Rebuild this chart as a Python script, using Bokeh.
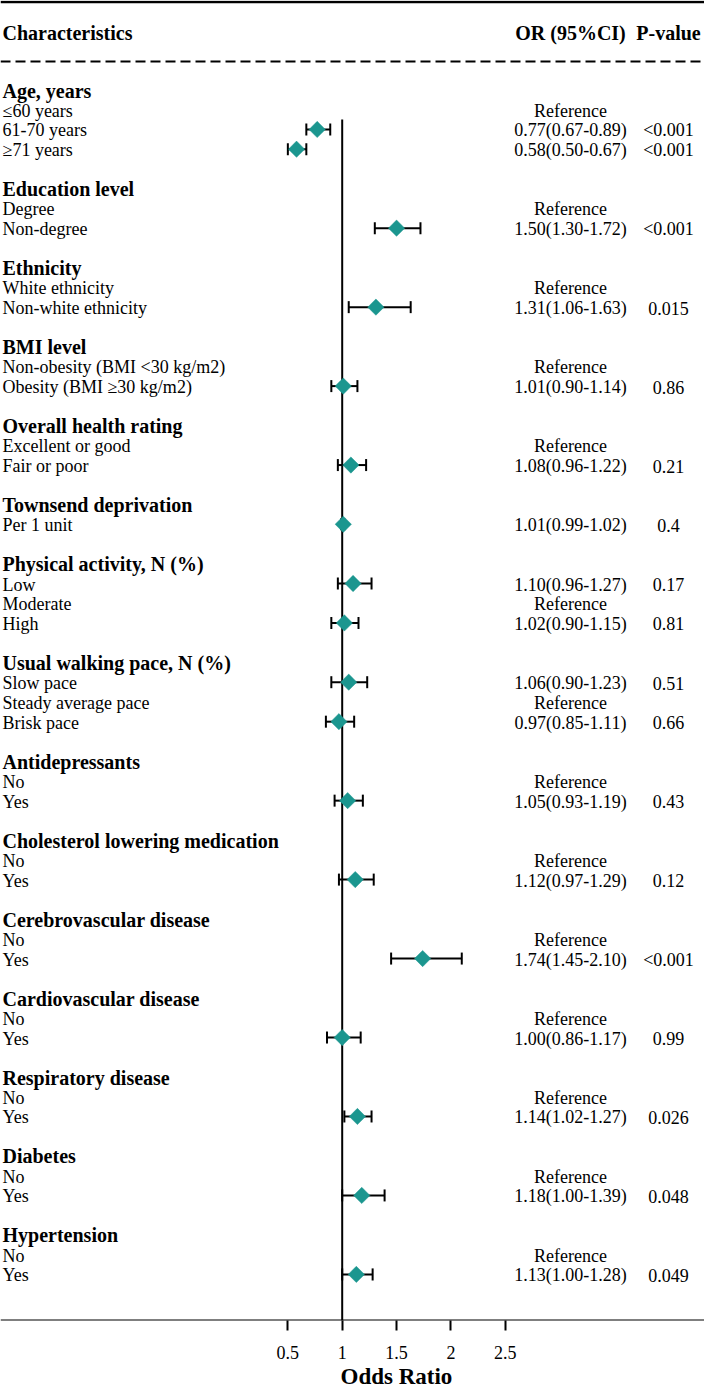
from bokeh.plotting import figure
from bokeh.models import (Range1d, Whisker, TeeHead, ColumnDataSource, LinearAxis,
                          FixedTicker, NumeralTickFormatter, Span, Title)
from bokeh.embed import file_html
from bokeh.resources import INLINE
from bokeh.core.properties import value

# ---------------- data ----------------
group_names = [
    "Age, years", "Education level", "Ethnicity", "BMI level", "Overall health rating",
    "Townsend deprivation", "Physical activity, N (%)", "Usual walking pace, N (%)",
    "Antidepressants", "Cholesterol lowering medication", "Cerebrovascular disease",
    "Cardiovascular disease", "Respiratory disease", "Diabetes", "Hypertension",
]
group_items = [
    ["\u226460 years", "61-70 years", "\u226571 years"],
    ["Degree", "Non-degree"],
    ["White ethnicity", "Non-white ethnicity"],
    ["Non-obesity (BMI <30 kg/m2)", "Obesity (BMI \u226530 kg/m2)"],
    ["Excellent or good", "Fair or poor"],
    ["Per 1 unit"],
    ["Low", "Moderate", "High"],
    ["Slow pace", "Steady average pace", "Brisk pace"],
    ["No", "Yes"],
    ["No", "Yes"],
    ["No", "Yes"],
    ["No", "Yes"],
    ["No", "Yes"],
    ["No", "Yes"],
    ["No", "Yes"],
]
# None = reference category
or_est = [
    [None, 0.77, 0.58], [None, 1.50], [None, 1.31], [None, 1.01], [None, 1.08],
    [1.01], [1.10, None, 1.02], [1.06, None, 0.97], [None, 1.05], [None, 1.12],
    [None, 1.74], [None, 1.00], [None, 1.14], [None, 1.18], [None, 1.13],
]
or_low = [
    [None, 0.67, 0.50], [None, 1.30], [None, 1.06], [None, 0.90], [None, 0.96],
    [0.99], [0.96, None, 0.90], [0.90, None, 0.85], [None, 0.93], [None, 0.97],
    [None, 1.45], [None, 0.86], [None, 1.02], [None, 1.00], [None, 1.00],
]
or_high = [
    [None, 0.89, 0.67], [None, 1.72], [None, 1.63], [None, 1.14], [None, 1.22],
    [1.02], [1.27, None, 1.15], [1.23, None, 1.11], [None, 1.19], [None, 1.29],
    [None, 2.10], [None, 1.17], [None, 1.27], [None, 1.39], [None, 1.28],
]
p_values = [
    ["", "<0.001", "<0.001"], ["", "<0.001"], ["", "0.015"], ["", "0.86"], ["", "0.21"],
    ["0.4"], ["0.17", "", "0.81"], ["0.51", "", "0.66"], ["", "0.43"], ["", "0.12"],
    ["", "<0.001"], ["", "0.99"], ["", "0.026"], ["", "0.048"], ["", "0.049"],
]
x_ticks = [0.5, 1, 1.5, 2, 2.5]
col_headers = ["Characteristics", "OR (95%CI)", "P-value"]
x_title = "Odds Ratio"

# ---------------- layout helpers ----------------
PX_X1 = 341.7      # pixel of OR = 1
PX_PER_UNIT = 108.7
ROW0 = 89.5        # pixel of first row centre
ROW_H = 19.74
FRAME_BOTTOM = 1320


def xd(px):
    return 1 + (px - PX_X1) / PX_PER_UNIT


def yd(px):
    return (px - ROW0) / ROW_H


FONT = value("Liberation Serif")
TEAL = "#1B968F"

# build rows
hdr_rows, hdr_txt = [], []
it_rows, it_txt, ci_txt, p_txt = [], [], [], []
est_rows, est, lo, hi = [], [], [], []
row = 0
for g, name in enumerate(group_names):
    hdr_rows.append(row)
    hdr_txt.append(name)
    row += 1
    for i, item in enumerate(group_items[g]):
        it_rows.append(row)
        it_txt.append(item)
        e = or_est[g][i]
        if e is None:
            ci_txt.append("Reference")
        else:
            ci_txt.append(f"{e:.2f}({or_low[g][i]:.2f}-{or_high[g][i]:.2f})")
            est_rows.append(row)
            est.append(e)
            lo.append(or_low[g][i])
            hi.append(or_high[g][i])
        p_txt.append(p_values[g][i])
        row += 1
    row += 1

item_off = 1.0 / ROW_H   # baseline offset from row centre
head_off = 0.5 / ROW_H

p = figure(width=704, height=1388,
           x_range=Range1d(xd(0), xd(704)),
           y_range=Range1d(yd(FRAME_BOTTOM), yd(0)),
           x_axis_type=None, y_axis_type=None,
           output_backend="svg", toolbar_location=None,
           min_border=0, outline_line_color=None)
p.background_fill_color = "white"
p.border_fill_color = "white"

# top rule and dashed rule
p.segment(x0=[xd(0)], y0=[yd(1.5)], x1=[xd(704)], y1=[yd(1.5)],
          line_color="black", line_width=2.5)
p.segment(x0=[xd(0)], y0=[yd(61)], x1=[xd(704)], y1=[yd(61)],
          line_color="black", line_width=2, line_dash="10 5")

# column headers
hdr_y = yd(32)
p.text(x=[xd(2)], y=[hdr_y], text=[col_headers[0]], text_font=FONT,
       text_font_size="20px", text_font_style="bold", text_align="left",
       text_baseline="alphabetic", text_color="black")
p.text(x=[xd(570), xd(668)], y=[hdr_y, hdr_y], text=col_headers[1:], text_font=FONT,
       text_font_size="20px", text_font_style="bold", text_align="center",
       text_baseline="alphabetic", text_color="black")

# group headers
p.text(x=[xd(2)] * len(hdr_rows), y=[r + head_off for r in hdr_rows], text=hdr_txt,
       text_font=FONT, text_font_size="20px", text_font_style="bold",
       text_align="left", text_baseline="alphabetic", text_color="black")
# items
iy = [r + item_off for r in it_rows]
p.text(x=[xd(2)] * len(it_rows), y=iy, text=it_txt,
       text_font=FONT, text_font_size="18px", text_align="left",
       text_baseline="alphabetic", text_color="black")
p.text(x=[xd(570)] * len(it_rows), y=iy, text=ci_txt,
       text_font=FONT, text_font_size="18px", text_align="center",
       text_baseline="alphabetic", text_color="black")
p.text(x=[xd(668)] * len(it_rows), y=iy, text=p_txt,
       text_font=FONT, text_font_size="18px", text_align="center",
       text_baseline="alphabetic", text_color="black")

# reference line at OR = 1
p.segment(x0=[1], y0=[yd(119)], x1=[1], y1=[yd(FRAME_BOTTOM)], line_color="black", line_width=2)

# CIs and point estimates
src = ColumnDataSource(dict(row=est_rows, est=est, lo=lo, hi=hi))
wh = Whisker(source=src, base="row", lower="lo", upper="hi", dimension="width",
             line_color="black", line_width=2,
             upper_head=TeeHead(size=12, line_width=2, line_color="black"),
             lower_head=TeeHead(size=12, line_width=2, line_color="black"))
p.add_layout(wh)
p.scatter(x="est", y="row", source=src, marker="square", angle=0.785398,
          size=11.5, fill_color=TEAL, line_color=TEAL, line_width=0.5)

# bottom axis
p.add_layout(Span(location=yd(FRAME_BOTTOM), dimension="width", line_color="black", line_width=2))
ax = LinearAxis(ticker=FixedTicker(ticks=x_ticks), bounds=(0.5, 2.5),
                formatter=NumeralTickFormatter(format="0.[0]"))
ax.axis_line_color = None
ax.major_tick_in = 0
ax.major_tick_out = 10
ax.major_tick_line_width = 2
ax.major_tick_line_color = "black"
ax.minor_tick_line_color = None
ax.major_label_text_font = "Liberation Serif"
ax.major_label_text_font_size = "18px"
ax.major_label_text_color = "black"
ax.major_label_standoff = 15
p.add_layout(ax, "below")

ttl = Title(text=x_title, align="left", offset=340, standoff=0,
            text_font="Liberation Serif", text_font_size="23px",
            text_font_style="bold", text_color="black")
p.add_layout(ttl, "below")

open("out.html", "w").write(file_html(p, INLINE))
